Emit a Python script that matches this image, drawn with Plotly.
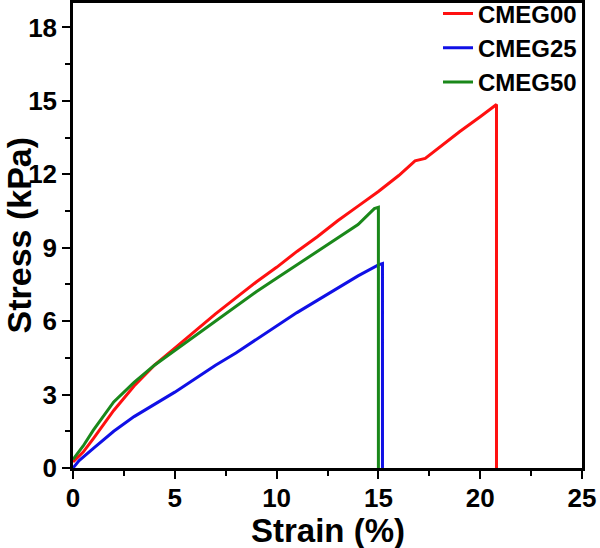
import plotly.graph_objects as go

# CMEG00 (red)
strain_00 = [0, 0.5, 1, 2, 3, 4, 5, 6, 7, 8, 9, 10, 11, 12, 13, 14, 15, 16, 16.8, 17.3, 18, 19, 20, 20.8, 20.8]
stress_00 = [0.25, 0.65, 1.2, 2.35, 3.35, 4.2, 4.9, 5.6, 6.3, 6.95, 7.6, 8.2, 8.85, 9.45, 10.1, 10.7, 11.3, 11.95, 12.55, 12.65, 13.1, 13.75, 14.35, 14.85, 0]

# CMEG25 (blue)
strain_25 = [0, 0.3, 1, 2, 3, 4, 5, 6, 7, 8, 9, 10, 11, 12, 13, 14, 15, 15.2, 15.2]
stress_25 = [0, 0.3, 0.8, 1.5, 2.1, 2.6, 3.1, 3.65, 4.2, 4.7, 5.25, 5.8, 6.35, 6.85, 7.35, 7.85, 8.3, 8.35, 0]

# CMEG50 (green)
strain_50 = [0, 0.5, 1, 2, 3, 4, 5, 6, 7, 8, 9, 10, 11, 12, 13, 14, 14.8, 15.0, 15.0]
stress_50 = [0.35, 0.9, 1.55, 2.7, 3.5, 4.2, 4.8, 5.4, 6.0, 6.6, 7.2, 7.75, 8.3, 8.85, 9.4, 9.95, 10.6, 10.65, 0]

names = ["CMEG00", "CMEG25", "CMEG50"]
colors = ["#ff1010", "#1010e6", "#1a881a"]

x_ticks = [0, 5, 10, 15, 20, 25]
y_ticks = [0, 3, 6, 9, 12, 15, 18]

fig = go.Figure()
for xs, ys, nm, c in zip([strain_00, strain_25, strain_50],
                         [stress_00, stress_25, stress_50], names, colors):
    fig.add_trace(go.Scatter(x=xs, y=ys, mode="lines", name=nm,
                             line=dict(color=c, width=3)))

font_fam = "Liberation Sans, Arial, sans-serif"
axis_common = dict(
    showline=True, linecolor="black", linewidth=2.5, mirror=True,
    ticks="outside", ticklen=8, tickwidth=2, tickcolor="black",
    showgrid=False, zeroline=False, automargin=False,
    tickfont=dict(family=font_fam, size=26, color="black", weight="bold"),
)
fig.update_xaxes(range=[0, 25], tickvals=x_ticks, ticklabelstandoff=-3,
                 minor=dict(dtick=2.5, ticks="outside", ticklen=5, tickwidth=2, tickcolor="black"),
                 **axis_common)
fig.update_yaxes(range=[0, 19], tickvals=y_ticks,
                 minor=dict(dtick=1.5, ticks="outside", ticklen=5, tickwidth=2, tickcolor="black"),
                 **axis_common)

fig.add_annotation(text="<b>Strain (%)</b>", xref="paper", yref="paper",
                   x=0.5, y=0, yshift=-62, xanchor="center", yanchor="middle",
                   showarrow=False, font=dict(family=font_fam, size=33, color="black"))
fig.add_annotation(text="<b>Stress (kPa)</b>", xref="paper", yref="paper",
                   x=0, y=0.5, xshift=-55, xanchor="center", yanchor="middle", textangle=-90,
                   showarrow=False, font=dict(family=font_fam, size=34, color="black"))

fig.update_layout(
    width=600, height=548,
    margin=dict(l=73, r=18, t=3, b=80, autoexpand=False),
    paper_bgcolor="white", plot_bgcolor="white",
    legend=dict(x=1, y=1.025, xanchor="right", yanchor="top",
                bgcolor="rgba(0,0,0,0)", tracegroupgap=0,
                font=dict(family=font_fam, size=24, color="black", weight="bold")),
)

fig.write_html("out.html", config={"displayModeBar": False},
               post_script="document.body.style.margin='0px';")
